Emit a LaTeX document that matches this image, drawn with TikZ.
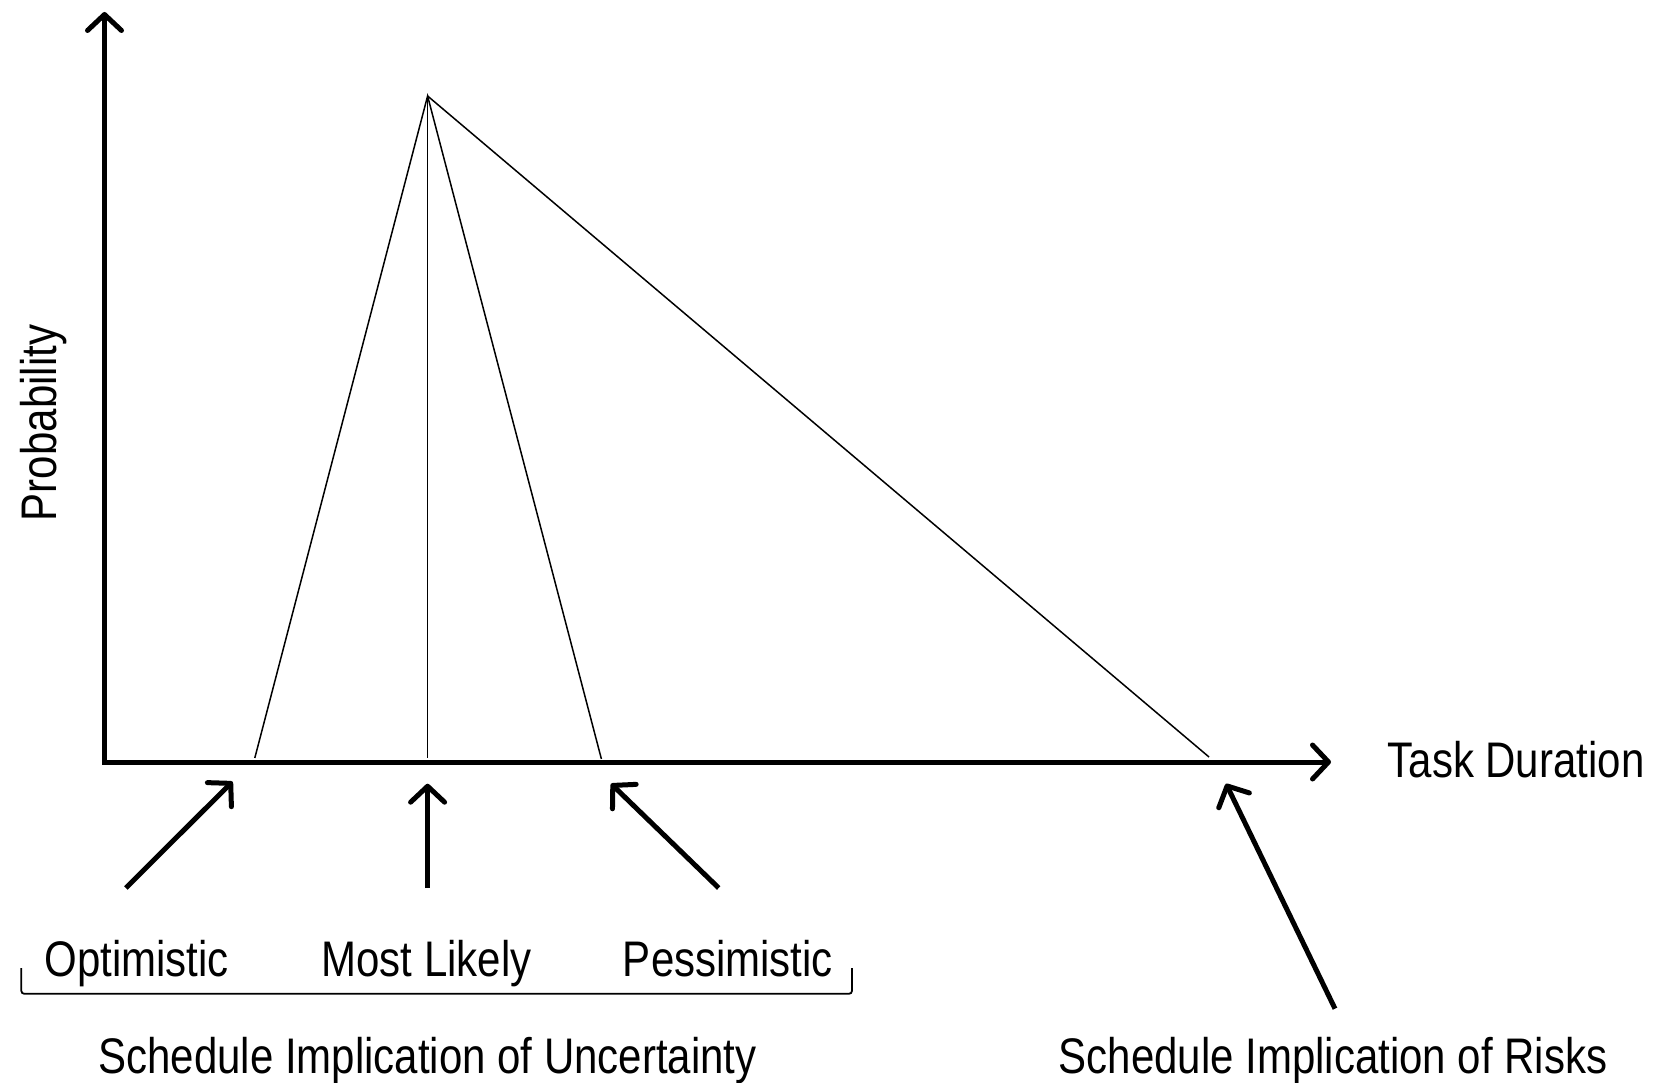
\documentclass[tikz,border=0pt]{standalone}
\usepackage{fontspec}
\setmainfont{Liberation Sans}[FakeStretch=0.84]
\usetikzlibrary{arrows.meta}
\begin{document}
\begin{tikzpicture}[x=1pt,y=-1pt,
  thick arrow/.style={line width=5pt,-{Straight Barb[length=16pt,width=34pt,line width=5pt,line cap=round,round]}},
  thin line/.style={line width=1.5pt},
  lbl/.style={font=\fontsize{50}{60}\selectfont, inner sep=0pt, anchor=base}]
\useasboundingbox (0,0) rectangle (1672,1083);
% axes
\coordinate (O) at (104.5,762);
\coordinate (Ytop) at (104.5,12);
\coordinate (Xend) at (1331,762);
\draw[thick arrow] ([yshift=-2.5pt]O) -- (Ytop);
\draw[thick arrow] ([xshift=-2.5pt]O) -- (Xend);
% distribution
\coordinate (apex) at (427.6,96);
\coordinate (opt) at (254.8,758);
\coordinate (ml) at (427.6,758);
\coordinate (pes) at (601.4,759);
\coordinate (risk) at (1209,757);
\draw[thin line, line join=miter] (opt) -- (apex) -- (pes);
\draw[thin line] (apex) -- (ml);
\draw[thin line] (apex) -- (risk);
% labels
\node[lbl] (td) at (1516,777) {Task Duration};
\node[lbl, rotate=90] (prob) at (56,423) {Probability};
\node[lbl] (lopt) at (136.5,976) {Optimistic};
\node[lbl] (lml) at (426.5,976) {Most Likely};
\node[lbl] (lpes) at (728,976) {Pessimistic};
\node[lbl] (lunc) at (427.6,1073) {Schedule Implication of Uncertainty};
\node[lbl] (lrisk) at (1333,1073) {Schedule Implication of Risks};
% pointer arrows
\coordinate (aopt0) at (125.8,888);
\coordinate (aopt1) at (232.5,781.6);
\coordinate (aml0) at (427.6,888);
\coordinate (aml1) at (427.6,783.7);
\coordinate (apes0) at (718.7,888);
\coordinate (apes1) at (611,783.7);
\coordinate (ar0) at (1335,1008.7);
\coordinate (ar1) at (1226,783.7);
\draw[thick arrow] (aopt0) -- (aopt1);
\draw[thick arrow] (aml0) -- (aml1);
\draw[thick arrow] (apes0) -- (apes1);
\draw[thick arrow] (ar0) -- (ar1);
% bracket
\coordinate (bl) at (21.3,968);
\coordinate (br) at (852,968);
\draw[line width=1.8pt, rounded corners=3pt] (bl) -- (21.3,993.8) -- (852,993.8) -- (br);
\end{tikzpicture}
\end{document}
